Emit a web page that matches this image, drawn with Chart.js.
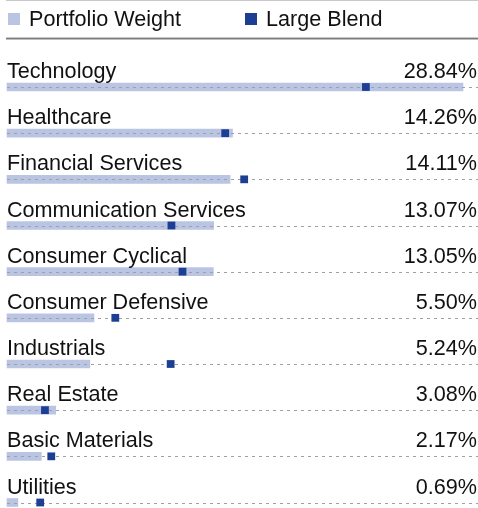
<!DOCTYPE html>
<html>
<head>
<meta charset="utf-8">
<script src="https://cdn.jsdelivr.net/npm/chart.js@4.4.1/dist/chart.umd.min.js"></script>
<style>
  html, body { margin: 0; padding: 0; background: #fff; }
  #wrap { width: 478px; height: 508px; position: relative; }
</style>
</head>
<body>
<div id="wrap"><canvas id="sectorChart"></canvas></div>
<script>
const sectors = ['Technology', 'Healthcare', 'Financial Services', 'Communication Services',
    'Consumer Cyclical', 'Consumer Defensive', 'Industrials', 'Real Estate', 'Basic Materials', 'Utilities'];
const portfolioWeight = [28.84, 14.26, 14.11, 13.07, 13.05, 5.50, 5.24, 3.08, 2.17, 0.69];
const largeBlend = [22.7, 13.8, 15.0, 10.4, 11.1, 6.85, 10.35, 2.4, 2.8, 2.1];

const lightBlue = '#bac5e3';
const darkBlue = '#1c3f94';
const textFont = '21.6px "Liberation Sans", Arial, sans-serif';

// draws dashed guides after the bars, so the markers land on top
const rowDecor = {
    id: 'rowDecor',
    afterDatasetDraw(chart, args) {
        if (args.index !== 0) return;
        const ctx = chart.ctx;
        const y = chart.scales.y;
        const left = chart.chartArea.left;
        ctx.save();
        ctx.strokeStyle = '#a0a0a0';
        ctx.lineWidth = 1;
        ctx.setLineDash([3, 4]);
        sectors.forEach((s, i) => {
            const py = Math.round(y.getPixelForValue(i)) + 0.5;
            ctx.beginPath();
            ctx.moveTo(left, py);
            ctx.lineTo(chart.width, py);
            ctx.stroke();
        });
        ctx.restore();
    },
    afterDraw(chart) {
        const ctx = chart.ctx;
        const y = chart.scales.y;
        const left = chart.chartArea.left;
        ctx.save();
        // header rules
        ctx.fillStyle = '#c8c8c8';
        ctx.fillRect(6, 0, chart.width - 6, 1);
        ctx.fillRect(6, 37, chart.width - 6, 1);
        ctx.fillStyle = '#7d7d7d';
        ctx.fillRect(6, 38, chart.width - 6, 1.5);

        // legend
        ctx.font = textFont;
        ctx.textBaseline = 'middle';
        ctx.textAlign = 'left';
        const items = [
            { x: 8, ds: chart.data.datasets[0] },
            { x: 245, ds: chart.data.datasets[1] }
        ];
        items.forEach(it => {
            ctx.fillStyle = it.ds.backgroundColor;
            ctx.fillRect(it.x, 13, 12, 12);
            ctx.fillStyle = '#111';
            ctx.fillText(it.ds.label, it.x + 21, 20);
        });

        // row labels and values
        ctx.textBaseline = 'alphabetic';
        sectors.forEach((s, i) => {
            const py = y.getPixelForValue(i);
            ctx.fillStyle = '#111';
            ctx.textAlign = 'left';
            ctx.fillText(s, left, py - 9);
            ctx.textAlign = 'right';
            ctx.fillText(portfolioWeight[i].toFixed(2) + '%', chart.width - 1, py - 9);
        });
        ctx.restore();
    }
};

const ctx = document.getElementById('sectorChart').getContext('2d');
const sectorChart = new Chart(ctx, {
    type: 'bar',
    data: {
        labels: sectors,
        datasets: [
            {
                label: 'Portfolio Weight',
                data: portfolioWeight,
                backgroundColor: lightBlue,
                barThickness: 8,
                order: 2,
                clip: false
            },
            {
                type: 'line',
                label: 'Large Blend',
                data: largeBlend.map((v, i) => ({ x: v, y: sectors[i] })),
                indexAxis: 'y',
                showLine: false,
                pointStyle: 'rect',
                pointRadius: 5.5,
                backgroundColor: darkBlue,
                borderColor: darkBlue,
                borderWidth: 0,
                order: 1,
                clip: false
            }
        ]
    },
    options: {
        indexAxis: 'y',
        responsive: true,
        maintainAspectRatio: false,
        animation: false,
        layout: { padding: { top: 87, bottom: -3, left: 7, right: 15 } },
        plugins: {
            legend: { display: false },
            tooltip: { enabled: false }
        },
        scales: {
            x: {
                min: 0,
                max: Math.max(...portfolioWeight),
                display: false
            },
            y: {
                type: 'category',
                offset: false,
                display: false
            }
        }
    },
    plugins: [rowDecor]
});
</script>
</body>
</html>
